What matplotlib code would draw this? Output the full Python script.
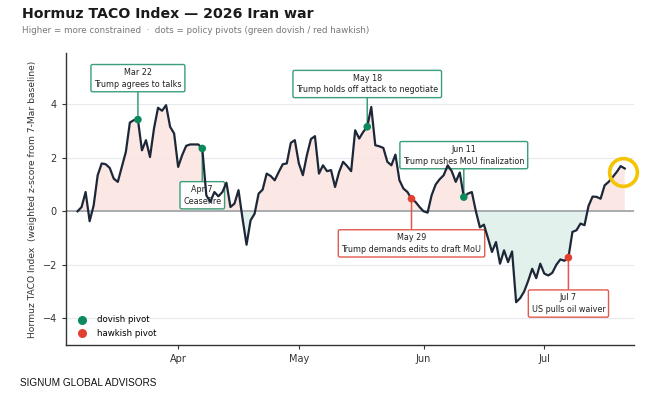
import numpy as np
import pandas as pd
import matplotlib
matplotlib.use("Agg")
import matplotlib.pyplot as plt
import matplotlib.dates as mdates
import matplotlib.transforms as mtransforms

# ---- data ----
start_date = "2026-03-07"
index_values = [
    0.0, 0.16, 0.72, -0.37, 0.22, 1.35, 1.79, 1.76, 1.62, 1.22,
    1.1, 1.66, 2.22, 3.32, 3.41, 3.43, 2.28, 2.66, 2.03, 3.1,
    3.87, 3.76, 3.97, 3.16, 2.91, 1.66, 2.1, 2.45, 2.5, 2.5,
    2.5, 2.35, 0.6, 0.35, 0.72, 0.56, 0.72, 1.07, 0.16, 0.29,
    0.79, -0.27, -1.25, -0.34, -0.09, 0.66, 0.81, 1.41, 1.32, 1.16,
    1.47, 1.76, 1.79, 2.56, 2.66, 1.79, 1.35, 2.1, 2.7, 2.81,
    1.41, 1.72, 1.5, 1.54, 0.91, 1.47, 1.85, 1.69, 1.5, 3.03,
    2.72, 2.97, 3.16, 3.9, 2.47, 2.43, 2.37, 1.85, 1.72, 2.12,
    1.16, 0.85, 0.72, 0.47, 0.35, 0.16, 0.0, -0.05, 0.6, 1.0,
    1.2, 1.35, 1.72, 1.5, 1.1, 1.45, 0.53, 0.66, 0.72, 0.0,
    -0.6, -0.5, -1.0, -1.52, -1.15, -1.96, -1.46, -1.9, -1.5, -3.4,
    -3.25, -3.0, -2.6, -2.15, -2.5, -1.96, -2.33, -2.4, -2.3, -2.0,
    -1.8, -1.85, -1.73, -0.77, -0.71, -0.46, -0.52, 0.2, 0.55, 0.54,
    0.47, 0.97, 1.1, 1.28, 1.47, 1.69, 1.6,
]
dates = pd.date_range(start_date, periods=len(index_values), freq="D")

pivot_dates = ["2026-03-22", "2026-04-07", "2026-05-18", "2026-05-29", "2026-06-11", "2026-07-07"]
pivot_kinds = ["dovish", "dovish", "dovish", "hawkish", "dovish", "hawkish"]
pivot_labels = ["Mar 22\nTrump agrees to talks", "Apr 7\nCeasefire",
                "May 18\nTrump holds off attack to negotiate",
                "May 29\nTrump demands edits to draft MoU",
                "Jun 11\nTrump rushes MoU finalization",
                "Jul 7\nUS pulls oil waiver"]
label_y = [4.98, 0.6, 4.76, -1.2, 2.1, -3.45]

# ---- style ----
GREEN = "#0b8a5c"
RED = "#e0402e"
LINE = "#1d2738"
BOX_G = "#3a9e78"
BOX_R = "#e05a4e"

fig = plt.figure(figsize=(6.68, 3.97), dpi=100)
ax = fig.add_axes([0.0988, 0.131, 0.851, 0.7355])

s = pd.Series(index_values, index=dates)
y = np.array(index_values)
ax.fill_between(dates, 0, y, where=y >= 0, interpolate=True, color="#fbe4e0", alpha=0.85, lw=0, zorder=1)
ax.fill_between(dates, 0, y, where=y <= 0, interpolate=True, color="#dff0e9", alpha=0.9, lw=0, zorder=1)
ax.axhline(0, color="#a3a7ab", lw=1.3, zorder=2)
ax.plot(dates, y, color=LINE, lw=1.6, zorder=3, solid_joinstyle="round")

for d, k, lab, ly in zip(pivot_dates, pivot_kinds, pivot_labels, label_y):
    dt = pd.Timestamp(d)
    val = s[dt]
    col = GREEN if k == "dovish" else RED
    bcol = BOX_G if k == "dovish" else BOX_R
    ax.annotate(lab, xy=(dt, val), xytext=(dt, ly), ha="center", va="center",
                fontsize=5.8, color="#222222", linespacing=1.4,
                bbox=dict(boxstyle="round,pad=0.4,rounding_size=0.2", fc="white", ec=bcol, lw=1.0),
                arrowprops=dict(arrowstyle="-", color=bcol, lw=1.1, shrinkA=0, shrinkB=0),
                zorder=2.5)
    ax.scatter([dt], [val], s=30, color=col, zorder=6, edgecolors="none")

# legend handles
ax.scatter([], [], s=30, color=GREEN, label="dovish pivot")
ax.scatter([], [], s=30, color=RED, label="hawkish pivot")
ax.legend(loc="lower left", frameon=False, fontsize=6.2, handletextpad=0.7,
          borderaxespad=0.45, labelspacing=0.55)

# highlight circle at latest point
off = mtransforms.offset_copy(ax.transData, fig=fig, x=-1.5, y=-3, units="dots")
ax.plot([dates[-1]], [y[-1]], marker="o", ms=20, mfc="none", mec="#f5c400", mew=2.6,
        transform=off, zorder=7, clip_on=False)

ax.set_xlim(pd.Timestamp("2026-03-04 03:00"), pd.Timestamp("2026-07-23 10:00"))
ax.set_ylim(-5.0, 5.92)
ax.set_yticks([-4, -2, 0, 2, 4])
ax.xaxis.set_major_locator(mdates.MonthLocator())
ax.xaxis.set_major_formatter(mdates.DateFormatter("%b"))
ax.tick_params(axis="both", labelsize=7, colors="#333333", length=3, width=0.8)
ax.grid(axis="y", color="#e6eaef", lw=0.8, zorder=0)
ax.set_axisbelow(True)
for sp in ["top", "right"]:
    ax.spines[sp].set_visible(False)
for sp in ["left", "bottom"]:
    ax.spines[sp].set_color("#333333")
    ax.spines[sp].set_linewidth(1.0)
ax.set_ylabel("Hormuz TACO Index  (weighted z-score from 7-Mar baseline)", fontsize=6.6, color="#333333")

fig.text(0.033, 0.965, "Hormuz TACO Index \u2014 2026 Iran war", fontsize=10.2, fontweight="bold",
         color="#1a1a1a", va="center", ha="left")
fig.text(0.033, 0.924, "Higher = more constrained  \u00b7  dots = policy pivots (green dovish / red hawkish)",
         fontsize=6.3, color="#777777", va="center", ha="left")
fig.text(0.03, 0.035, "SIGNUM GLOBAL ADVISORS", fontsize=7.2, color="#111111",
         family=["Liberation Sans Narrow", "Liberation Sans", "DejaVu Sans"], va="center", ha="left")

fig.savefig("out.png", dpi=100)
